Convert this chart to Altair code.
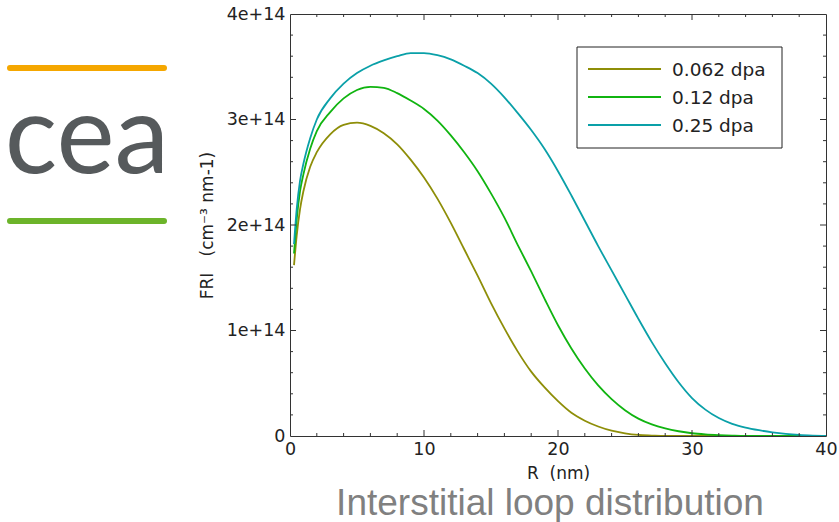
import altair as alt
import pandas as pd

# ---------------- data (FRI in units of 1e14 cm^-3 nm^-1) ----------------
r_nm = [0.3, 0.5, 0.75, 1, 1.5, 2, 3, 4, 5, 6, 7, 8, 9, 10, 11, 12, 13, 14, 15, 16,
        17, 18, 19, 20, 21, 22, 23, 24, 25, 26, 27, 28, 29, 30, 31, 32, 33, 34, 35,
        36, 37, 38, 39, 40]

fri_0062 = [1.62, 1.90, 2.15, 2.32, 2.55, 2.69, 2.86, 2.95, 2.97, 2.94, 2.87, 2.765,
            2.62, 2.45, 2.25, 2.02, 1.77, 1.52, 1.26, 1.02, 0.80, 0.61, 0.46, 0.33,
            0.22, 0.145, 0.09, 0.05, 0.025, 0.01, 0.004, 0, 0, 0, 0, 0, 0, 0, 0, 0,
            0, 0, 0, 0]

fri_012 = [1.73, 2.05, 2.32, 2.48, 2.72, 2.89, 3.07, 3.20, 3.28, 3.31, 3.30, 3.25,
           3.18, 3.10, 2.99, 2.85, 2.69, 2.51, 2.30, 2.07, 1.81, 1.56, 1.30, 1.05,
           0.83, 0.64, 0.48, 0.35, 0.245, 0.165, 0.11, 0.072, 0.045, 0.026, 0.015, 0.008,
           0.003, 0, 0, 0, 0, 0, 0, 0]

fri_025 = [1.82, 2.15, 2.42, 2.58, 2.82, 3.00, 3.20, 3.34, 3.44, 3.51, 3.56, 3.60,
           3.63, 3.63, 3.61, 3.57, 3.51, 3.44, 3.34, 3.21, 3.06, 2.90, 2.72, 2.51,
           2.28, 2.04, 1.80, 1.57, 1.34, 1.11, 0.89, 0.69, 0.51, 0.36, 0.25, 0.17,
           0.115, 0.08, 0.055, 0.035, 0.02, 0.01, 0.004, 0]

series_names = ["0.062 dpa", "0.12 dpa", "0.25 dpa"]
series_values = [fri_0062, fri_012, fri_025]
series_colors = ["#8e8e08", "#10b410", "#0aa0a8"]

x_major = [10, 20, 30]
x_minor = [2, 4, 6, 8, 12, 14, 16, 18, 22, 24, 26, 28, 32, 34, 36, 38]
y_major = [1e14, 2e14, 3e14]
y_minor = [2e13, 4e13, 6e13, 8e13, 1.2e14, 1.4e14, 1.6e14, 1.8e14, 2.2e14, 2.4e14,
           2.6e14, 2.8e14, 3.2e14, 3.4e14, 3.6e14, 3.8e14]

rows = []
for name, vals in zip(series_names, series_values):
    for r, v in zip(r_nm, vals):
        rows.append({"R": r, "FRI": v * 1e14, "series": name})
df = pd.DataFrame(rows)

W, H = 536, 422
FRAME = "#333333"
FONT = "DejaVu Sans"
NB = "\u00a0"

x_scale = alt.Scale(domain=[0, 40], nice=False, zero=False, padding=0)
y_scale = alt.Scale(domain=[0, 4e14], nice=False, padding=0)

x_axis = alt.Axis(values=[0, 10, 20, 30, 40], title="R" + NB + NB + "(nm)", ticks=False,
                  domain=False, grid=False, labelPadding=4, titlePadding=8,
                  labelFlush=False, format="d")
y_axis = alt.Axis(values=[0, 1e14, 2e14, 3e14, 4e14],
                  title="FRI" + NB * 3 + "(cm⁻³" + NB + "nm-1)",
                  ticks=False, domain=False, grid=False, labelPadding=5,
                  titlePadding=10, labelFlush=False,
                  labelExpr="datum.value == 0 ? '0' : format(datum.value / 1e14, 'd') + 'e+14'")

def xenc():
    return alt.X("R:Q", scale=x_scale, axis=x_axis)

def yenc():
    return alt.Y("FRI:Q", scale=y_scale, axis=y_axis)

lines = alt.Chart(df).mark_line(strokeWidth=1.8, clip=True, interpolate="monotone").encode(
    x=xenc(),
    y=yenc(),
    color=alt.Color("series:N", scale=alt.Scale(domain=series_names, range=series_colors),
                    legend=None),
    order=alt.Order("R:Q"),
)

layers = [lines]

# inward ticks (bottom/top and left/right)
for vals, ln in [(x_major, 6), (x_minor, 3)]:
    d = pd.DataFrame({"R": vals})
    layers.append(alt.Chart(d).mark_rule(color=FRAME, strokeWidth=1).encode(
        x=xenc(), y=alt.value(H), y2=alt.value(H - ln)))
    layers.append(alt.Chart(d).mark_rule(color=FRAME, strokeWidth=1).encode(
        x=xenc(), y=alt.value(0), y2=alt.value(ln)))
for vals, ln in [(y_major, 6), (y_minor, 3)]:
    d = pd.DataFrame({"FRI": vals})
    layers.append(alt.Chart(d).mark_rule(color=FRAME, strokeWidth=1).encode(
        y=yenc(), x=alt.value(0), x2=alt.value(ln)))
    layers.append(alt.Chart(d).mark_rule(color=FRAME, strokeWidth=1).encode(
        y=yenc(), x=alt.value(W), x2=alt.value(W - ln)))

# legend box
one = pd.DataFrame({"k": [0]})
layers.append(alt.Chart(one).mark_rect(fill="white", stroke="#222222", strokeWidth=1).encode(
    x=alt.value(287), x2=alt.value(492), y=alt.value(33), y2=alt.value(134)))
for i, (name, col) in enumerate(zip(series_names, series_colors)):
    yy = 55 + 28 * i
    layers.append(alt.Chart(one).mark_rule(color=col, strokeWidth=1.8).encode(
        x=alt.value(298), x2=alt.value(371), y=alt.value(yy)))
    layers.append(alt.Chart(pd.DataFrame({"t": [name]})).mark_text(
        align="left", baseline="middle", font=FONT, fontSize=18.5, color="#222222").encode(
        x=alt.value(382), y=alt.value(yy + 1), text="t:N"))

# logo (cea) on the left
layers.append(alt.Chart(one).mark_rule(color="#f5a700", strokeWidth=6, strokeCap="round").encode(
    x=alt.value(-280), x2=alt.value(-126), y=alt.value(54)))
layers.append(alt.Chart(one).mark_rule(color="#6cb42a", strokeWidth=6, strokeCap="round").encode(
    x=alt.value(-280), x2=alt.value(-126), y=alt.value(207)))
layers.append(alt.Chart(pd.DataFrame({"t": ["cea"]})).mark_text(
    align="center", baseline="alphabetic", font="Lato", fontSize=110, fontWeight="normal",
    color="#565a5c").encode(x=alt.value(-203), y=alt.value(159), text="t:N"))

# caption at the bottom
layers.append(alt.Chart(pd.DataFrame({"t": ["Interstitial loop distribution"]})).mark_text(
    align="center", baseline="alphabetic", font="Liberation Sans", fontSize=37,
    color="#808080").encode(x=alt.value(260), y=alt.value(H + 79), text="t:N"))

chart = alt.layer(*layers).properties(
    width=W, height=H,
    autosize=alt.AutoSizeParams(type="none"),
    padding={"left": 290, "top": 14, "right": 13, "bottom": 86},
).configure_view(stroke=FRAME, strokeWidth=1).configure_axis(
    labelFont=FONT, titleFont=FONT, labelFontSize=17.5, titleFontSize=17,
    labelColor="#222222", titleColor="#222222", titleFontWeight="normal",
)

chart.save("out.html", embed_options={"renderer": "svg", "actions": False})
